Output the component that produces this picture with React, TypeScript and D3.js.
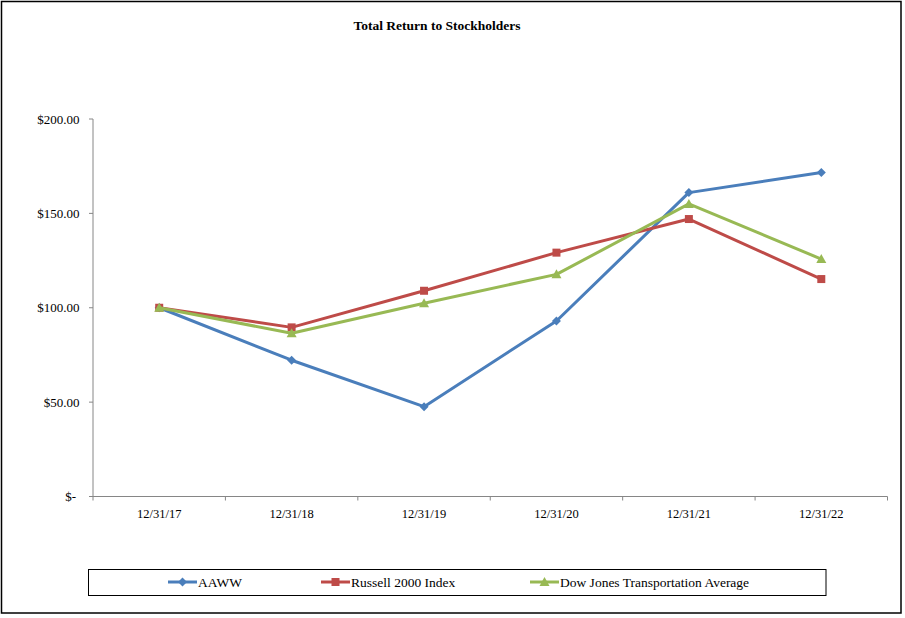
import React from "react";
import * as d3 from "d3";

const categories = ["12/31/17", "12/31/18", "12/31/19", "12/31/20", "12/31/21", "12/31/22"];
const aawwValues = [100, 72.2, 47.6, 93.0, 161.0, 171.6];
const russellValues = [100, 89.6, 109.0, 129.2, 147.0, 115.2];
const djtValues = [100, 86.5, 102.4, 117.7, 155.0, 125.8];
const yTicks = [0, 50, 100, 150, 200];
const seriesNames = ["AAWW", "Russell 2000 Index", "Dow Jones Transportation Average"];
const seriesColors = ["#4A7EBB", "#BE4B48", "#98B954"];

const W = 905;
const H = 618;
const FONT = "'Liberation Serif', 'Times New Roman', serif";

function Marker({ kind, x, y, color }: { kind: number; x: number; y: number; color: string }) {
  if (kind === 0) {
    const s = 4.5;
    return <path d={`M${x},${y - s}L${x + s},${y}L${x},${y + s}L${x - s},${y}Z`} fill={color} />;
  }
  if (kind === 1) {
    const s = 4;
    return <rect x={x - s} y={y - s} width={2 * s} height={2 * s} fill={color} />;
  }
  const s = 5;
  return <path d={`M${x},${y - s}L${x + s},${y + s * 0.8}L${x - s},${y + s * 0.8}Z`} fill={color} />;
}

export default function App() {
  const x = d3.scaleBand<string>().domain(categories).range([93, 887.5]);
  const y = d3.scaleLinear().domain([0, 200]).range([496.5, 119]);
  const cx = (c: string) => (x(c) as number) + x.bandwidth() / 2;
  const series = [aawwValues, russellValues, djtValues];
  const line = d3
    .line<number>()
    .x((_, i) => cx(categories[i]))
    .y((d) => y(d));
  const fmt = (v: number) => (v === 0 ? "$-" : "$" + d3.format(".2f")(v));
  const legendX = [168, 321, 530];
  const legendY = 582;
  const axisColor = "#868686";

  return (
    <svg
      width={W}
      height={H}
      style={{ position: "absolute", left: 0, top: 0, background: "#fff" }}
      fontFamily={FONT}
    >
      <rect x={0} y={0} width={W} height={H} fill="#fff" />
      <rect x={1.5} y={1.5} width={899.5} height={611.5} fill="none" stroke="#000" strokeWidth={1.5} />
      <text x={437} y={30} textAnchor="middle" fontSize={13.5} fontWeight="bold" fill="#000">
        Total Return to Stockholders
      </text>

      {/* y axis */}
      <line x1={93} x2={93} y1={y(200)} y2={y(0)} stroke={axisColor} strokeWidth={1} />
      {yTicks.map((t) => (
        <g key={t}>
          <line x1={89} x2={93} y1={y(t)} y2={y(t)} stroke={axisColor} />
          <text x={t === 0 ? 76 : 79.5} y={y(t) + 4.5} textAnchor="end" fontSize={13} fill="#000">
            {fmt(t)}
          </text>
        </g>
      ))}

      {/* x axis */}
      <line x1={93} x2={887.5} y1={y(0)} y2={y(0)} stroke={axisColor} strokeWidth={1} />
      {categories.map((c, i) => (
        <line
          key={"t" + i}
          x1={x(c) as number}
          x2={x(c) as number}
          y1={y(0)}
          y2={y(0) + 4}
          stroke={axisColor}
        />
      ))}
      <line x1={887.5} x2={887.5} y1={y(0)} y2={y(0) + 4} stroke={axisColor} />
      {categories.map((c) => (
        <text key={c} x={cx(c)} y={518} textAnchor="middle" fontSize={12.5} fill="#000">
          {c}
        </text>
      ))}

      {/* series */}
      {series.map((vals, si) => (
        <g key={si}>
          <path d={line(vals) || ""} fill="none" stroke={seriesColors[si]} strokeWidth={3} strokeLinejoin="round" />
          {vals.map((v, i) => (
            <Marker key={i} kind={si} x={cx(categories[i])} y={y(v)} color={seriesColors[si]} />
          ))}
        </g>
      ))}

      {/* legend */}
      <rect x={88.5} y={569.5} width={737.5} height={26} fill="none" stroke="#000" strokeWidth={1} />
      {seriesNames.map((n, i) => (
        <g key={n}>
          <line
            x1={legendX[i]}
            x2={legendX[i] + 29}
            y1={legendY}
            y2={legendY}
            stroke={seriesColors[i]}
            strokeWidth={3}
          />
          <Marker kind={i} x={legendX[i] + 14.5} y={legendY} color={seriesColors[i]} />
          <text x={legendX[i] + 30} y={legendY + 5} fontSize={13.5} fill="#000">
            {n}
          </text>
        </g>
      ))}
    </svg>
  );
}
